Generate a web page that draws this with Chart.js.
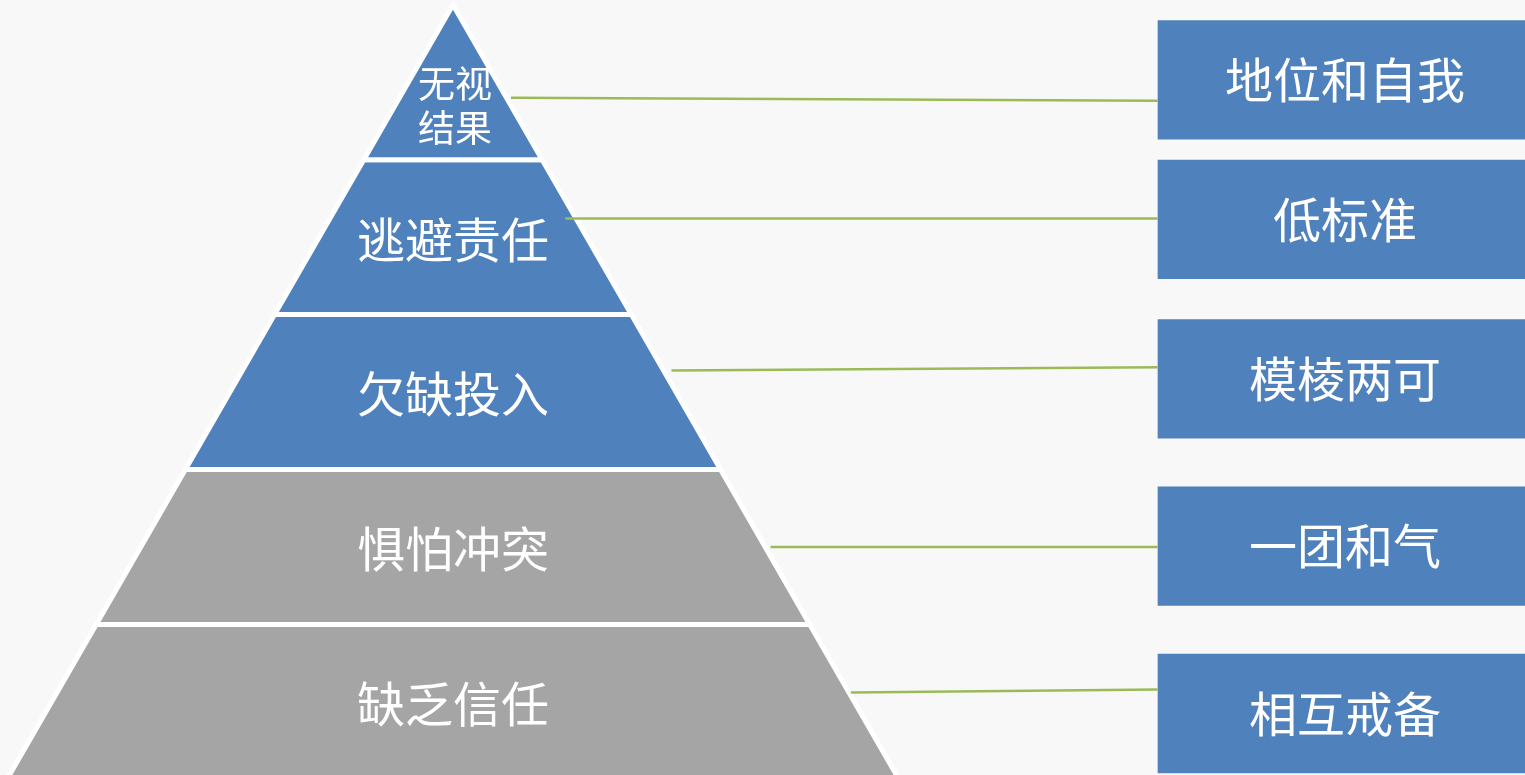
<!DOCTYPE html>
<html><head><meta charset="utf-8">
<script src="https://cdn.jsdelivr.net/npm/chart.js@4.4.1/dist/chart.umd.min.js"></script>
<style>html,body{margin:0;padding:0;background:#F8F8F8;overflow:hidden}#wrap{width:1525px;height:775px;position:relative}</style>
</head><body><div id="wrap"><canvas id="c"></canvas></div>
<script>
// ---- Pyramid layers (top to bottom), in level units: apex = 5, base = 0 ----
const layerLabels = [['无视', '结果'], ['逃避责任'], ['欠缺投入'], ['惧怕冲突'], ['缺乏信任']];
const layerTop = [5, 4, 3, 2, 1];
const layerBottom = [4, 3, 2, 1, 0];
const layerGroup = ['blue', 'blue', 'blue', 'gray', 'gray'];
const layerLabelY = [4.35, 3.48, 2.49, 1.49, 0.49];
const apexLevel = 5;

// ---- Right-hand boxes ----
const boxLabels = ['地位和自我', '低标准', '模棱两可', '一团和气', '相互戒备'];
const boxTop = [4.90, 4.00, 2.97, 1.89, 0.81];
const boxBottom = [4.13, 3.23, 2.20, 1.12, 0.04];

// ---- Connector lines ----
const connStartX = [0.65, 1.26, 2.45, 3.56, 4.46];
const connStartY = [4.40, 3.62, 2.64, 1.50, 0.56];
const connEndY = [4.38, 3.62, 2.66, 1.50, 0.58];

const COLORS = { blue: '#4F81BD', gray: '#A5A5A5', green: '#9BBB59', border: '#FFFFFF' };
const BOX_LEFT = 7.90, BOX_RIGHT = 12.6, BOX_TEXT_X = 10.0;

function halfWidth(level) { return apexLevel - level; }
function polygon(pts) {
  const out = [];
  pts.forEach(p => {
    const last = out[out.length - 1];
    if (!last || last.x !== p.x || last.y !== p.y) out.push(p);
  });
  return out;
}

const layerSets = layerLabels.map((lbl, i) => {
  const b = layerBottom[i], t = layerTop[i];
  return {
    label: lbl.join(''),
    data: polygon([
      { x: 0, y: b }, { x: halfWidth(b), y: b }, { x: halfWidth(t), y: t },
      { x: -halfWidth(t), y: t }, { x: -halfWidth(b), y: b }, { x: 0, y: b }
    ]),
    backgroundColor: COLORS[layerGroup[i]],
    borderColor: COLORS.border,
    borderWidth: 5,
    borderJoinStyle: 'miter',
    fill: 'shape',
    pointRadius: 0,
    tension: 0
  };
});

const boxSets = boxLabels.map((lbl, i) => ({
  label: lbl,
  data: [
    { x: BOX_LEFT, y: boxBottom[i] }, { x: BOX_RIGHT, y: boxBottom[i] },
    { x: BOX_RIGHT, y: boxTop[i] }, { x: BOX_LEFT, y: boxTop[i] }, { x: BOX_LEFT, y: boxBottom[i] }
  ],
  backgroundColor: COLORS.blue,
  borderWidth: 0,
  borderColor: 'rgba(0,0,0,0)',
  fill: 'shape',
  pointRadius: 0,
  tension: 0
}));

const connSets = connStartX.map((sx, i) => ({
  label: 'conn' + i,
  data: [{ x: sx, y: connStartY[i] }, { x: BOX_LEFT, y: connEndY[i] }],
  borderColor: COLORS.green,
  borderWidth: 2.5,
  fill: false,
  pointRadius: 0,
  tension: 0
}));

const labelPlugin = {
  id: 'textLabels',
  afterDatasetsDraw(chart) {
    const { ctx, scales: { x, y } } = chart;
    ctx.save();
    ctx.fillStyle = '#FFFFFF';
    ctx.textAlign = 'center';
    ctx.textBaseline = 'middle';
    layerLabels.forEach((lines, i) => {
      const multi = lines.length > 1;
      ctx.font = (multi ? 37 : 48) + 'px "Noto Sans CJK SC", "Noto Sans", sans-serif';
      const cx = x.getPixelForValue(0) + (multi ? 2 : 0);
      const cy = y.getPixelForValue(layerLabelY[i]);
      const lh = 44;
      lines.forEach((t, j) => ctx.fillText(t, cx, cy + (j - (lines.length - 1) / 2) * lh));
    });
    ctx.font = '48px "Noto Sans CJK SC", "Noto Sans", sans-serif';
    boxLabels.forEach((t, i) => {
      ctx.fillText(t, x.getPixelForValue(BOX_TEXT_X), y.getPixelForValue((boxTop[i] + boxBottom[i]) / 2));
    });
    ctx.restore();
  }
};

new Chart(document.getElementById('c'), {
  type: 'line',
  data: { datasets: [...connSets, ...boxSets, ...layerSets] },
  options: {
    responsive: true,
    maintainAspectRatio: false,
    animation: false,
    layout: { padding: 0 },
    plugins: { legend: { display: false }, tooltip: { enabled: false }, title: { display: false } },
    scales: {
      x: { type: 'linear', min: -5.078, max: 12.018, display: false },
      y: { type: 'linear', min: 0.028, max: 5.031, display: false }
    }
  },
  plugins: [labelPlugin]
});
</script>
</body></html>
